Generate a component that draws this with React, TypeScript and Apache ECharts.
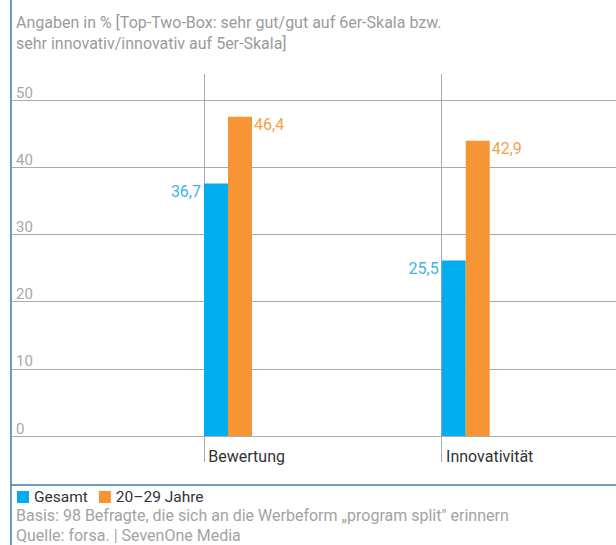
import React, { useEffect, useRef } from "react";
import * as echarts from "echarts";

const categories = ["Bewertung", "Innovativität"];
const seriesNames = ["Gesamt", "20–29 Jahre"];
const gesamtValues = [36.7, 25.5];
const jahreValues = [46.4, 42.9];
const titleLines = [
  "Angaben in % [Top-Two-Box: sehr gut/gut auf 6er-Skala bzw.",
  "sehr innovativ/innovativ auf 5er-Skala]",
];
const footLines = [
  "Basis: 98 Befragte, die sich an die Werbeform „program split\" erinnern",
  "Quelle: forsa. | SevenOne Media",
];

const FONT = "Roboto";
const GRID_COLOR = "#ababab";
const BLUE = "#00aeef";
const ORANGE = "#f79433";
const FRAME = "#3d78b4";

const fmt = (v: number) => v.toFixed(1).replace(".", ",");

export default function App() {
  const ref = useRef<HTMLDivElement>(null);
  useEffect(() => {
    if (!ref.current) return;
    const chart = echarts.init(ref.current, undefined, { renderer: "svg" });
    chart.setOption({
      animation: false,
      backgroundColor: "#ffffff",
      textStyle: { fontFamily: FONT },
      title: [
        {
          text: titleLines.join("\n"),
          left: 16,
          top: 12,
          padding: 0,
          textStyle: {
            fontFamily: FONT,
            fontSize: 16,
            fontWeight: "normal",
            color: "#9b9b9b",
            lineHeight: 21,
          },
        },
        {
          text: footLines.join("\n"),
          left: 16,
          top: 505,
          padding: 0,
          textStyle: {
            fontFamily: FONT,
            fontSize: 16,
            fontWeight: "normal",
            color: "#a3a3a3",
            lineHeight: 20,
          },
        },
      ],
      legend: {
        data: seriesNames,
        left: 17,
        top: 489,
        icon: "rect",
        itemWidth: 12,
        itemHeight: 12,
        itemGap: 11,
        padding: 0,
        textStyle: { fontFamily: FONT, fontSize: 15.5, color: "#333333" },
      },
      grid: [
        { left: 12, right: 0, top: 100, bottom: 109, outerBoundsMode: "none" },
        { left: 204, width: 475.4, top: 74, bottom: 109, outerBoundsMode: "none" },
      ],
      xAxis: [
        { gridIndex: 0, type: "value", show: false },
        {
          gridIndex: 1,
          type: "category",
          data: categories,
          boundaryGap: true,
          axisLine: { show: false },
          axisTick: { show: true, length: 26, lineStyle: { color: GRID_COLOR, width: 1 } },
          splitLine: { show: true, lineStyle: { color: GRID_COLOR, width: 1 } },
          axisLabel: {
            interval: 0,
            margin: 11,
            formatter: "{a|{value}}",
            rich: {
              a: {
                width: 233,
                align: "left",
                padding: [0, 0, 0, 4],
                fontFamily: FONT,
                fontSize: 16,
                color: "#333333",
                lineHeight: 18,
              },
            },
          },
        },
      ],
      yAxis: [
        {
          gridIndex: 0,
          type: "value",
          min: 0,
          max: 50,
          interval: 10,
          axisLine: { show: false },
          axisTick: { show: false },
          splitLine: { show: true, lineStyle: { color: GRID_COLOR, width: 1 } },
          axisLabel: {
            inside: true,
            margin: 4,
            verticalAlign: "bottom",
            fontFamily: FONT,
            fontSize: 15,
            color: "#a8a8a8",
          },
        },
        { gridIndex: 1, type: "value", min: 0, max: 52.6, show: false },
      ],
      series: [
        {
          name: seriesNames[0],
          type: "bar",
          xAxisIndex: 1,
          yAxisIndex: 1,
          data: gesamtValues,
          barWidth: 24,
          itemStyle: { color: BLUE },
          label: {
            show: true,
            position: [-3, 0],
            align: "right",
            verticalAlign: "top",
            fontFamily: FONT,
            fontSize: 16,
            color: "#3cb5e8",
            formatter: (p: any) => fmt(p.value),
          },
        },
        {
          name: seriesNames[1],
          type: "bar",
          xAxisIndex: 1,
          yAxisIndex: 1,
          data: jahreValues,
          barWidth: 24,
          itemStyle: { color: ORANGE },
          label: {
            show: true,
            position: [26, 0],
            align: "left",
            verticalAlign: "top",
            fontFamily: FONT,
            fontSize: 16,
            color: "#f5a04c",
            formatter: (p: any) => fmt(p.value),
          },
        },
        {
          name: "spacer",
          type: "bar",
          xAxisIndex: 1,
          yAxisIndex: 1,
          data: [],
          barWidth: 189.7,
          barGap: "0%",
          silent: true,
          itemStyle: { color: "rgba(0,0,0,0)" },
        },
      ],
      graphic: [
        {
          type: "line",
          shape: { x1: 11, y1: 0, x2: 11, y2: 545 },
          style: { stroke: FRAME, lineWidth: 1.5 },
          silent: true,
        },
        {
          type: "line",
          shape: { x1: 11, y1: 485, x2: 616, y2: 485 },
          style: { stroke: FRAME, lineWidth: 1.5 },
          silent: true,
        },
      ],
    });
    return () => chart.dispose();
  }, []);
  return (
    <div
      ref={ref}
      style={{ position: "fixed", left: 0, top: 0, width: 616, height: 545 }}
    />
  );
}
